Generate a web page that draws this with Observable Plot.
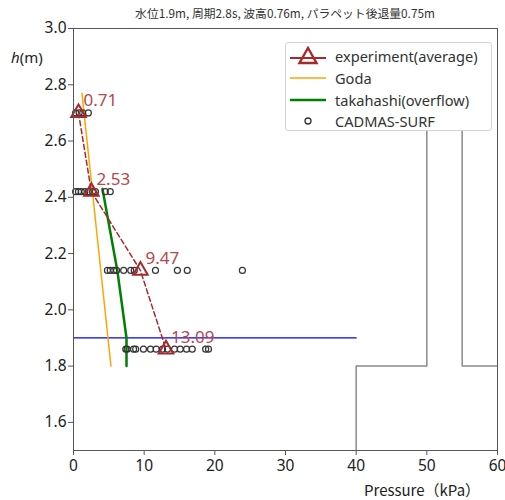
<!DOCTYPE html>
<html>
<head>
<meta charset="utf-8">
<script src="https://cdn.jsdelivr.net/npm/d3@7"></script>
<script src="https://cdn.jsdelivr.net/npm/@observablehq/plot@0.6"></script>
<style>
  html, body { margin: 0; padding: 0; background: #fff; }
  #wrap { position: relative; width: 505px; height: 500px; font-family: "Noto Sans", "Noto Sans CJK JP", sans-serif; }
  #wrap svg { position: absolute; left: 0; top: 0; }
  .title { position: absolute; left: 73px; width: 424px; top: 4px; text-align: center; font-size: 11.8px; color: #333; font-family: "Noto Sans CJK JP", sans-serif; }
  .ylab { position: absolute; left: 11px; top: 47px; font-size: 15px; color: #222; }
  .xlab { position: absolute; left: 364px; top: 479px; font-size: 15px; color: #222; font-family: "Noto Sans CJK JP", sans-serif; }
  .legend { position: absolute; left: 285px; top: 42px; width: 207px; height: 89px; background: #fff; border: 1px solid #d4d4d4; border-radius: 3px; box-sizing: border-box; font-size: 14.6px; color: #333; }
  .legend .row { position: absolute; left: 0; height: 20px; display: flex; align-items: center; }
  .legend svg { position: static; }
  .legend span { position: absolute; left: 49px; white-space: nowrap; }
</style>
</head>
<body>
<div id="wrap"></div>
<script>
// Measurement heights (m)
const heights = [2.70, 2.42, 2.14, 1.86];
// Averaged experimental pressure at each height (kPa)
const expPressure = [0.71, 2.53, 9.47, 13.09];

// Goda pressure profile (kPa, m)
const godaP = [1.2, 5.3];
const godaH = [2.77, 1.80];

// Takahashi (overflow) pressure profile (kPa, m)
const takaP = [4.1, 6.2, 7.5, 7.5];
const takaH = [2.43, 2.14, 1.90, 1.80];

// CADMAS-SURF results per height (kPa)
const cadmasRow270 = [0.3, 0.8, 1.3, 2.1];
const cadmasRow242 = [0.3, 0.7, 1.1, 1.6, 2.1, 2.7, 3.1, 4.5, 5.2];
const cadmasRow214 = [4.8, 5.2, 5.7, 6.1, 7.1, 8.1, 8.6, 11.6, 14.7, 16.1, 23.9];
const cadmasRow186 = [7.4, 7.6, 8.5, 8.8, 9.9, 10.9, 11.7, 12.6, 13.3, 14.3, 15.1, 16.0, 16.8, 18.7, 19.1];

// Still water level (m) and its extent (kPa)
const waterLevel = 1.9;
const waterExtent = [0, 40];

// Structure outline: ground step and parapet walls (kPa axis, m)
const stepX = [40, 40, 50, 50];
const stepH = [1.5, 1.8, 1.8, 2.9];
const wallX = [55, 55, 60];
const wallH = [2.9, 1.8, 1.8];

const xTicks = [0, 10, 20, 30, 40, 50, 60];
const yTicks = [1.6, 1.8, 2.0, 2.2, 2.4, 2.6, 2.8, 3.0];

const expData = heights.map((h, i) => ({p: expPressure[i], h}));
const cadmas = [
  ...cadmasRow270.map(p => ({p, h: heights[0]})),
  ...cadmasRow242.map(p => ({p, h: heights[1]})),
  ...cadmasRow214.map(p => ({p, h: heights[2]})),
  ...cadmasRow186.map(p => ({p, h: heights[3]}))
];
const goda = godaP.map((p, i) => ({p, h: godaH[i]}));
const taka = takaP.map((p, i) => ({p, h: takaH[i]}));
const step = stepX.map((p, i) => ({p, h: stepH[i]}));
const wall = wallX.map((p, i) => ({p, h: wallH[i]}));
const water = waterExtent.map(p => ({p, h: waterLevel}));

const red = "#a8292c";

const chart = Plot.plot({
  width: 505,
  height: 500,
  marginLeft: 73,
  marginRight: 8,
  marginTop: 28,
  marginBottom: 50,
  style: {fontFamily: "Noto Sans, sans-serif", fontSize: "15.5px", color: "#222", background: "transparent"},
  x: {domain: [0, 60]},
  y: {domain: [1.5, 3.0]},
  marks: [
    Plot.line(step, {x: "p", y: "h", stroke: "#8a8a8a", strokeWidth: 1.5}),
    Plot.line(wall, {x: "p", y: "h", stroke: "#8a8a8a", strokeWidth: 1.5}),
    Plot.line(water, {x: "p", y: "h", stroke: "#0000ff", strokeWidth: 1.2}),
    Plot.line(goda, {x: "p", y: "h", stroke: "#ffa500", strokeWidth: 1.5}),
    Plot.line(taka, {x: "p", y: "h", stroke: "#008000", strokeWidth: 2.5}),
    Plot.dot(cadmas, {x: "p", y: "h", r: 3, stroke: "#333", strokeWidth: 1.2, fill: "none"}),
    Plot.line(expData, {x: "p", y: "h", stroke: red, strokeWidth: 1.5, strokeDasharray: "5,3"}),
    Plot.dot(expData, {x: "p", y: "h", symbol: "triangle", r: 5.4, stroke: red, strokeWidth: 2, fill: "none"}),
    Plot.text(expData, {x: "p", y: "h", text: d => d.p.toFixed(2), dx: 5, dy: -12, textAnchor: "start", fill: "#b5474b", fontSize: 17}),
    Plot.frame({stroke: "#555", strokeWidth: 1}),
    Plot.axisX({ticks: xTicks, tickSize: 5, tickPadding: 4, label: null, stroke: "#555"}),
    Plot.axisY({ticks: yTicks, tickSize: 5, tickPadding: 2, label: null, tickFormat: d3.format(".1f"), stroke: "#555"})
  ]
});

const wrap = document.getElementById("wrap");
wrap.appendChild(chart);

const title = document.createElement("div");
title.className = "title";
title.textContent = "水位1.9m, 周期2.8s, 波高0.76m, パラペット後退量0.75m";
wrap.appendChild(title);

const ylab = document.createElement("div");
ylab.className = "ylab";
ylab.innerHTML = "<i>h</i>(m)";
wrap.appendChild(ylab);

const xlab = document.createElement("div");
xlab.className = "xlab";
xlab.textContent = "Pressure（kPa）";
wrap.appendChild(xlab);

// Legend
const entries = [
  {label: "experiment(average)", draw: `<line x1="2" x2="38" y1="12" y2="12" stroke="${red}" stroke-width="2"/><path d="M20,2 L28.5,17 L11.5,17 Z" fill="none" stroke="${red}" stroke-width="2.4"/>`},
  {label: "Goda", draw: `<line x1="2" x2="38" y1="10" y2="10" stroke="#ffa500" stroke-width="1.6"/>`},
  {label: "takahashi(overflow)", draw: `<line x1="2" x2="38" y1="10" y2="10" stroke="#008000" stroke-width="2.6"/>`},
  {label: "CADMAS-SURF", draw: `<circle cx="20" cy="10" r="3" fill="none" stroke="#333" stroke-width="1.3"/>`}
];
const legend = document.createElement("div");
legend.className = "legend";
const rowTops = [3, 25, 47, 68];
entries.forEach((e, i) => {
  const row = document.createElement("div");
  row.className = "row";
  row.style.top = rowTops[i] + "px";
  row.style.width = "100%";
  row.innerHTML = `<svg width="44" height="20" style="margin-left:2px">${e.draw}</svg><span>${e.label}</span>`;
  legend.appendChild(row);
});
wrap.appendChild(legend);
</script>
</body>
</html>
